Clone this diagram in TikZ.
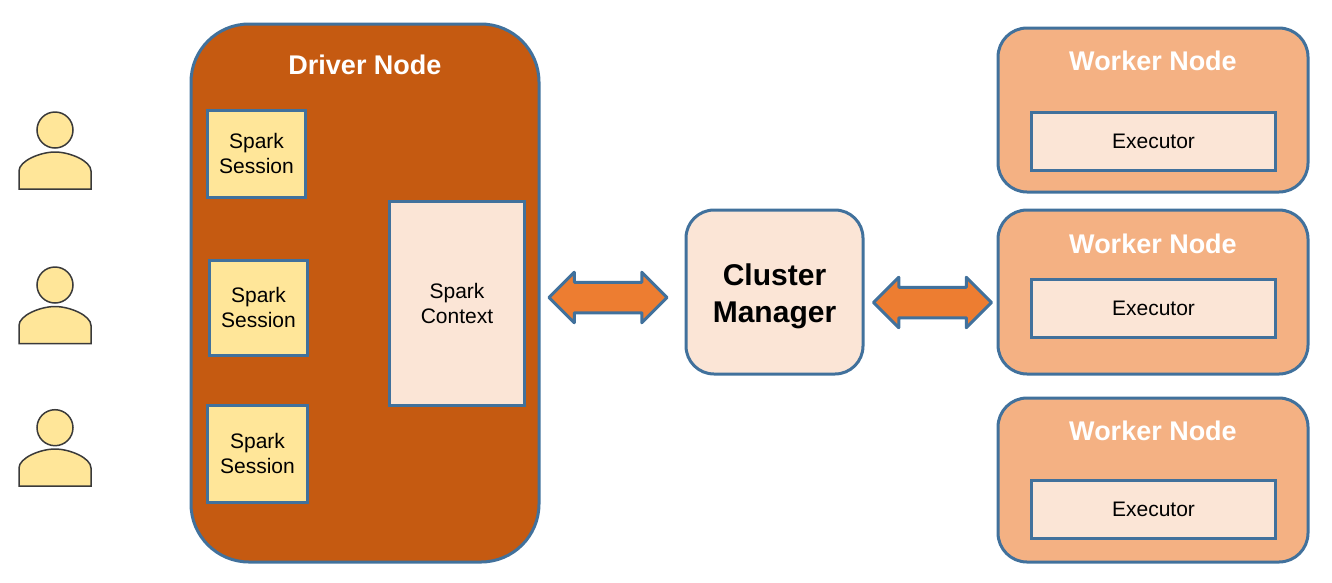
\documentclass[tikz,border=0pt]{standalone}
\usepackage{fontspec}
\setmainfont{Liberation Sans}
\usetikzlibrary{positioning,shapes.arrows}
\definecolor{edgeBlue}{HTML}{41719C}
\definecolor{driverFill}{HTML}{C55A11}
\definecolor{workerFill}{HTML}{F4B183}
\definecolor{paleFill}{HTML}{FBE5D6}
\definecolor{sessionFill}{HTML}{FFE699}
\definecolor{arrowFill}{HTML}{ED7D31}
\definecolor{userEdge}{HTML}{3A3A3A}
\begin{document}
\begin{tikzpicture}[
                  x=1pt,y=-1pt,
                  font=\fontsize{21}{25}\selectfont,
                  box/.style={draw=edgeBlue,line width=3pt,align=center,inner sep=0pt},
                  session/.style={box,fill=sessionFill,minimum width=98pt,minimum height=92pt},
                  worker/.style={box,fill=workerFill,rounded corners=29pt,minimum width=310pt,minimum height=164pt},
                  executor/.style={box,fill=paleFill,minimum width=244pt,minimum height=58pt},
                  title/.style={text=white,font=\fontsize{27}{32}\selectfont\bfseries},
                  biarrow/.style={double arrow,draw=edgeBlue,line width=3pt,line join=round,fill=arrowFill,inner sep=13.75pt,
                    minimum width=48pt,minimum height=118pt,double arrow head extend=10pt}
                ]
                \useasboundingbox (0,0) rectangle (1332,582);
                % users
                \foreach \n/\y/\b in {1/130/189,2/285/343.5,3/427.7/486}{
                  \node[circle,draw=userEdge,line width=1.5pt,fill=sessionFill,minimum size=36pt,inner sep=0pt] (u\n) at (55,\y) {};
                  \draw[userEdge,line width=1.5pt,fill=sessionFill] (19,\b) -- (19,\b-18)
                    .. controls (19,\b-28) and (40,\b-37) .. (55,\b-37)
                    .. controls (70,\b-37) and (91,\b-28) .. (91,\b-18) -- (91,\b) -- cycle;
                }
                % driver
                \node[box,fill=driverFill,rounded corners=58pt,minimum width=348pt,minimum height=538pt] (driver) at (365,293) {};
                \node[title] (dtitle) at (365,65) {Driver Node};
                \node[session,minimum height=87pt] (s1) at (256.5,153.5) {Spark\\Session};
                \node[session,minimum height=95pt] (s2) at (258.5,307.5) {Spark\\Session};
                \node[session,minimum width=100pt,minimum height=97pt] (s3) at (257.5,453.5) {Spark\\Session};
                \node[box,fill=paleFill,minimum width=135pt,minimum height=204pt] (context) at (457,303) {Spark\\Context};
                % manager
                \node[biarrow] (a1) at (608,297.5) {};
                \node[box,fill=paleFill,rounded corners=28pt,minimum width=177pt,minimum height=164pt] (cm) at (774.5,292) {};
                \node[font=\fontsize{30}{37}\selectfont\bfseries,align=center] (cmtext) at (774.5,296) {Cluster\\Manager};
                \node[biarrow] (a2) at (932.5,302.5) {};
                % workers
                \node[worker] (w1) at (1153,110) {};
                \node[title] (t1) at (1153,61) {Worker Node};
                \node[executor] (e1) at (1153.5,141) {Executor};
                \node[worker] (w2) at (1153,292) {};
                \node[title] (t2) at (1153,244) {Worker Node};
                \node[executor] (e2) at (1153.5,308) {Executor};
                \node[worker] (w3) at (1153,480) {};
                \node[title] (t3) at (1153,431) {Worker Node};
                \node[executor] (e3) at (1153.5,509.5) {Executor};
                \end{tikzpicture}
\end{document}
